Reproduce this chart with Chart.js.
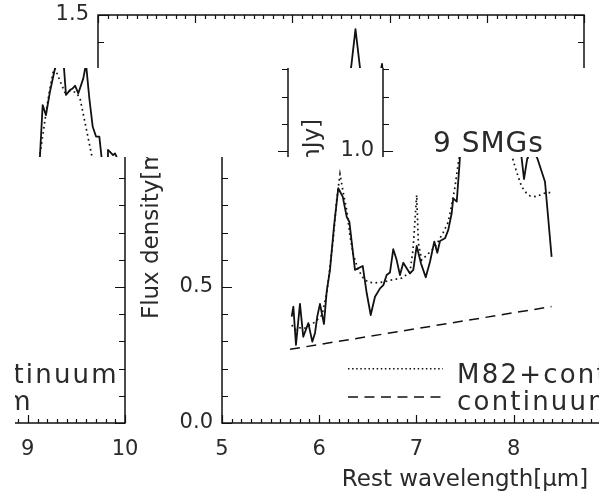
<!DOCTYPE html>
<html>
<head>
<meta charset="utf-8">
<title>9 SMGs mid-IR stack</title>
<script src="https://cdn.jsdelivr.net/npm/chart.js@4.4.0/dist/chart.umd.min.js"></script>
<style>
    html, body { margin: 0; padding: 0; background: #fff; }
    #page { position: relative; width: 599px; height: 491px; overflow: hidden; background: #fff; }
    .tile { position: absolute; overflow: hidden; }
    .tile canvas { position: absolute; }
</style>
</head>
<body>
<div id="page"></div>
<script>
// Stacked spectrum of 9 SMGs (solid), M82 template + continuum (dotted), continuum (dashed)
const smgWave = [5.717, 5.734, 5.761, 5.802, 5.836, 5.888, 5.929, 5.957, 5.980, 6.008,
    6.049, 6.077, 6.111, 6.152, 6.196, 6.242, 6.283, 6.310, 6.368, 6.448,
    6.489, 6.530, 6.574, 6.626, 6.660, 6.694, 6.728, 6.762, 6.797, 6.831,
    6.865, 6.900, 6.934, 6.968, 7.003, 7.047, 7.096, 7.140, 7.184, 7.215,
    7.243, 7.294, 7.328, 7.363, 7.379, 7.415, 7.445, 7.476, 7.510, 7.551,
    7.603, 7.649, 7.695, 7.716, 7.757, 7.785, 7.809, 7.843, 7.894, 7.922,
    7.956, 7.991, 8.025, 8.059, 8.083, 8.107, 8.141, 8.148, 8.169, 8.200,
    8.220, 8.244, 8.323, 8.391];
const smgFlux = [0.391, 0.428, 0.287, 0.438, 0.317, 0.367, 0.299, 0.331, 0.391, 0.438,
    0.364, 0.483, 0.563, 0.722, 0.863, 0.832, 0.758, 0.740, 0.563, 0.577,
    0.477, 0.397, 0.464, 0.495, 0.507, 0.544, 0.553, 0.639, 0.599, 0.544,
    0.589, 0.569, 0.550, 0.563, 0.651, 0.587, 0.536, 0.593, 0.667, 0.626,
    0.669, 0.679, 0.710, 0.771, 0.826, 0.814, 0.960, 1.169, 1.132, 1.218,
    1.304, 1.448, 1.307, 1.206, 1.224, 1.230, 1.240, 1.212, 1.267, 1.320,
    1.194, 1.089, 1.053, 1.053, 0.973, 0.897, 0.974, 1.004, 0.997, 0.985,
    0.991, 0.973, 0.887, 0.611];

const modelWave = [5.717, 5.761, 5.800, 5.854, 5.900, 5.957, 6.029, 6.077, 6.111, 6.146,
    6.180, 6.214, 6.248, 6.283, 6.317, 6.351, 6.402, 6.454, 6.502, 6.574,
    6.656, 6.749, 6.852, 6.934, 6.965, 7.003, 7.020, 7.054, 7.109, 7.191,
    7.274, 7.328, 7.363, 7.397, 7.428, 7.449, 7.483, 7.517, 7.551, 7.585,
    7.603, 7.637, 7.671, 7.706, 7.760, 7.820, 7.860, 7.920, 7.980, 8.025,
    8.082, 8.128, 8.169, 8.230, 8.272, 8.333, 8.391];
const modelFlux = [0.360, 0.342, 0.350, 0.349, 0.360, 0.371, 0.397, 0.477, 0.574, 0.684,
    0.820, 0.915, 0.846, 0.783, 0.688, 0.618, 0.563, 0.533, 0.518, 0.515,
    0.518, 0.526, 0.533, 0.555, 0.636, 0.838, 0.662, 0.599, 0.618, 0.647,
    0.699, 0.739, 0.801, 0.868, 0.949, 0.991, 1.071, 1.157, 1.230, 1.292,
    1.304, 1.273, 1.243, 1.215, 1.222, 1.215, 1.194, 1.090, 0.985, 0.930,
    0.869, 0.847, 0.835, 0.832, 0.838, 0.847, 0.847];

const contWave = [5.70, 8.39];
const contFlux = [0.271, 0.428];

const xTickValues = [5, 6, 7, 8, 9, 10];
const xTickLabels = ['5', '6', '7', '8', '9', '10'];
const yTickValues = [0, 0.5, 1.0, 1.5];
const yTickLabels = ['0.0', '0.5', '1.0', '1.5'];
const legendLabels = ['M82+continuum', 'continuum'];
const plotTitle = '9 SMGs';

const ink = '#111';
const textInk = '#2a2a2a';

function toPoints(xs, ys) {
    return xs.map((x, i) => ({ x: x, y: ys[i] }));
}

// IDL style box: frame plus inward major/minor ticks, legend and title text
const idlBox = {
    id: 'idlBox',
    afterDraw(chart) {
        const { ctx, chartArea: a, scales: { x, y } } = chart;
        ctx.save();
        ctx.strokeStyle = ink;
        ctx.lineWidth = 1.5;
        ctx.strokeRect(a.left, a.top, a.right - a.left, a.bottom - a.top);

        ctx.lineWidth = 1.2;
        ctx.beginPath();
        for (let i = 50; i <= 100; i++) {
            const px = Math.round(x.getPixelForValue(i / 10)) + 0.5;
            const len = i % 10 === 0 ? 8 : 4;
            ctx.moveTo(px, a.bottom); ctx.lineTo(px, a.bottom - len);
            ctx.moveTo(px, a.top); ctx.lineTo(px, a.top + len);
        }
        for (let i = 0; i <= 15; i++) {
            const py = Math.round(y.getPixelForValue(i / 10)) + 0.5;
            const len = i % 5 === 0 ? 10 : 6;
            ctx.moveTo(a.left, py); ctx.lineTo(a.left + len, py);
            ctx.moveTo(a.right, py); ctx.lineTo(a.right - len, py);
        }
        ctx.stroke();

        // legend
        const x0 = x.getPixelForValue(6.296), x1 = x.getPixelForValue(7.273);
        const tx = x.getPixelForValue(7.418);
        ctx.lineWidth = 1.5;
        ctx.setLineDash([1.5, 2.6]);
        ctx.beginPath();
        ctx.moveTo(x0, y.getPixelForValue(0.199)); ctx.lineTo(x1, y.getPixelForValue(0.199));
        ctx.stroke();
        ctx.setLineDash([10, 6.5]);
        ctx.beginPath();
        ctx.moveTo(x0, y.getPixelForValue(0.096)); ctx.lineTo(x1, y.getPixelForValue(0.096));
        ctx.stroke();
        ctx.setLineDash([]);

        ctx.fillStyle = textInk;
        ctx.textAlign = 'left';
        ctx.textBaseline = 'alphabetic';
        ctx.font = '26px "DejaVu Sans"';
        ctx.letterSpacing = '2.2px';
        ctx.fillText(legendLabels[0], tx, y.getPixelForValue(0.147));
        ctx.fillText(legendLabels[1], tx, y.getPixelForValue(0.048));

        ctx.font = '28px "DejaVu Sans"';
        ctx.letterSpacing = '1px';
        ctx.fillText(plotTitle, x.getPixelForValue(5.514), y.getPixelForValue(0.996));
        ctx.restore();
    }
};

function makeChart(canvas) {
    return new Chart(canvas.getContext('2d'), {
        type: 'line',
        data: {
            datasets: [
                {
                    label: 'SMG stack',
                    data: toPoints(smgWave, smgFlux),
                    borderColor: ink,
                    borderWidth: 1.8,
                    borderJoinStyle: 'round',
                    pointRadius: 0,
                    tension: 0
                },
                {
                    label: legendLabels[0],
                    data: toPoints(modelWave, modelFlux),
                    borderColor: ink,
                    borderWidth: 1.7,
                    borderDash: [1.7, 3.4],
                    pointRadius: 0,
                    tension: 0
                },
                {
                    label: legendLabels[1],
                    data: toPoints(contWave, contFlux),
                    borderColor: ink,
                    borderWidth: 1.5,
                    borderDash: [10, 6.5],
                    pointRadius: 0,
                    tension: 0
                }
            ]
        },
        options: {
            responsive: false,
            animation: false,
            events: [],
            layout: { padding: { top: 15, right: 15, left: 0, bottom: 0 } },
            plugins: {
                legend: { display: false },
                tooltip: { enabled: false }
            },
            scales: {
                x: {
                    type: 'linear',
                    min: 5,
                    max: 10,
                    afterFit: s => { s.height = 68; s.paddingLeft = 0; s.paddingRight = 0; },
                    afterBuildTicks: s => { s.ticks = xTickValues.map(v => ({ value: v })); },
                    ticks: {
                        callback: (v, i) => xTickLabels[i],
                        font: { size: 21 },
                        color: textInk,
                        padding: 14,
                        maxRotation: 0,
                        autoSkip: false
                    },
                    grid: { display: false, drawTicks: false },
                    border: { display: false },
                    title: {
                        display: true,
                        text: 'Rest wavelength[μm]',
                        font: { size: 23, lineHeight: 1 },
                        color: textInk,
                        padding: { top: 0, bottom: -1 }
                    }
                },
                y: {
                    type: 'linear',
                    min: 0,
                    max: 1.5,
                    afterFit: s => { s.width = 98; s.paddingTop = 0; s.paddingBottom = 0; },
                    afterBuildTicks: s => { s.ticks = yTickValues.map(v => ({ value: v })); },
                    ticks: {
                        callback: (v, i) => yTickLabels[i],
                        font: { size: 21 },
                        color: textInk,
                        padding: 9
                    },
                    grid: { display: false, drawTicks: false },
                    border: { display: false },
                    title: {
                        display: true,
                        text: 'Flux density[mJy]',
                        font: { size: 23, lineHeight: 1 },
                        color: textInk,
                        padding: { top: 17, bottom: 0 }
                    }
                }
            }
        },
        plugins: [idlBox]
    });
}

// the picture is made of shifted strips of the same plot:
// [left, top, width, height, shift] with plotX = screenX + shift
const tiles = [
    [0, 0, 599, 68, 0],
    [0, 68, 290, 89, 296],
    [290, 68, 309, 89, -285],
    [15, 157, 125, 334, 459],
    [140, 157, 459, 334, -124]
];

Chart.defaults.font.family = '"DejaVu Sans", sans-serif';

const page = document.getElementById('page');
tiles.forEach(([left, top, w, h, shift]) => {
    const tile = document.createElement('div');
    tile.className = 'tile';
    tile.style.left = left + 'px';
    tile.style.top = top + 'px';
    tile.style.width = w + 'px';
    tile.style.height = h + 'px';
    const canvas = document.createElement('canvas');
    canvas.width = 599;
    canvas.height = 491;
    canvas.style.left = (-shift - left) + 'px';
    canvas.style.top = (-top) + 'px';
    tile.appendChild(canvas);
    page.appendChild(tile);
    makeChart(canvas);
});
</script>
</body>
</html>
